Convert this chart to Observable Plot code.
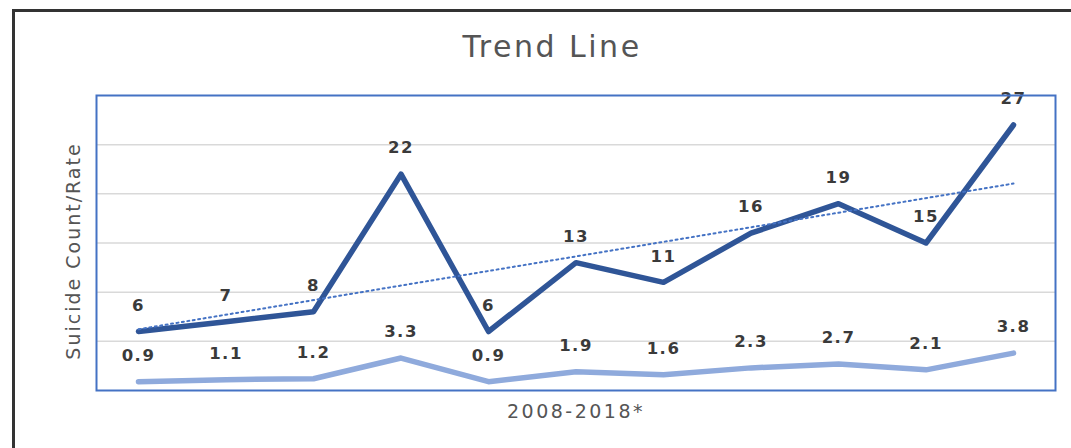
<!DOCTYPE html>
<html>
<head>
<meta charset="utf-8">
<script src="https://cdn.jsdelivr.net/npm/d3@7"></script>
<script src="https://cdn.jsdelivr.net/npm/@observablehq/plot@0.6"></script>
<style>
  html, body { margin: 0; padding: 0; background: #fff; overflow: hidden; }
  #wrap { position: relative; width: 1071px; height: 448px; overflow: hidden; }
  #outer { position: absolute; left: 12px; top: 9px; width: 2000px; height: 1000px;
           border-left: 3px solid #333; border-top: 3px solid #333; box-sizing: border-box; }
  #chart { position: absolute; left: 0; top: 0; }
</style>
</head>
<body>
<div id="wrap"><div id="outer"></div><div id="chart"></div></div>
<script>
const years = [2008, 2009, 2010, 2011, 2012, 2013, 2014, 2015, 2016, 2017, 2018];
const counts = [6, 7, 8, 22, 6, 13, 11, 16, 19, 15, 27];
const rates = [0.9, 1.1, 1.2, 3.3, 0.9, 1.9, 1.6, 2.3, 2.7, 2.1, 3.8];
const gridValues = [5, 10, 15, 20, 25];
const titleText = "Trend Line";
const xLabel = "2008-2018*";
const yLabel = "Suicide Count/Rate";

const countData = years.map((y, i) => ({year: y, value: counts[i]}));
const rateData = years.map((y, i) => ({year: y, value: rates[i]}));

const font = "DejaVu Sans, sans-serif";

const plot = Plot.plot({
  width: 1071,
  height: 448,
  marginLeft: 96,
  marginRight: 16,
  marginTop: 95,
  marginBottom: 58,
  style: {background: "transparent", fontFamily: font, overflow: "visible"},
  x: {domain: [2007.52, 2018.48], axis: null},
  y: {domain: [0, 30], axis: null},
  marks: [
    Plot.ruleY(gridValues, {stroke: "#d9d9d9", strokeWidth: 1.5}),
    Plot.line(rateData, {x: "year", y: "value", stroke: "#8FAADC", strokeWidth: 5.5}),
    Plot.line(countData, {x: "year", y: "value", stroke: "#2F5597", strokeWidth: 5.5}),
    Plot.linearRegressionY(countData, {x: "year", y: "value", ci: 0, stroke: "#4472C4", strokeWidth: 2, strokeDasharray: "2,3.5"}),
    Plot.text(countData, {x: "year", y: "value", text: d => String(d.value), dy: -26, fill: "#3a3a3a", fontSize: 16.5, fontWeight: "bold"}),
    Plot.text(rateData, {x: "year", y: "value", text: d => String(d.value), dy: -26, fill: "#3a3a3a", fontSize: 16.5, fontWeight: "bold"}),
    Plot.frame({stroke: "#4472C4", strokeWidth: 2}),
    Plot.text([titleText], {frameAnchor: "top", dx: -24, dy: -48, fill: "#555", fontSize: 30, lineAnchor: "middle"}),
    Plot.text([xLabel], {frameAnchor: "bottom", dy: 21, fill: "#555", fontSize: 19, lineAnchor: "middle"}),
    Plot.text([yLabel], {frameAnchor: "left", textAnchor: "middle", dx: -23, dy: 8, rotate: -90, fill: "#555", fontSize: 19, lineAnchor: "middle"})
  ]
});
document.getElementById("chart").appendChild(plot);

// widen texts to match reference letter spacing
const texts = plot.querySelectorAll("text");
texts.forEach(t => {
  const s = t.textContent;
  if (s === titleText) t.setAttribute("letter-spacing", "2.5");
  else if (s === xLabel) t.setAttribute("letter-spacing", "2.5");
  else if (s === yLabel) t.setAttribute("letter-spacing", "2");
  else t.setAttribute("letter-spacing", "1.5");
});
</script>
</body>
</html>
